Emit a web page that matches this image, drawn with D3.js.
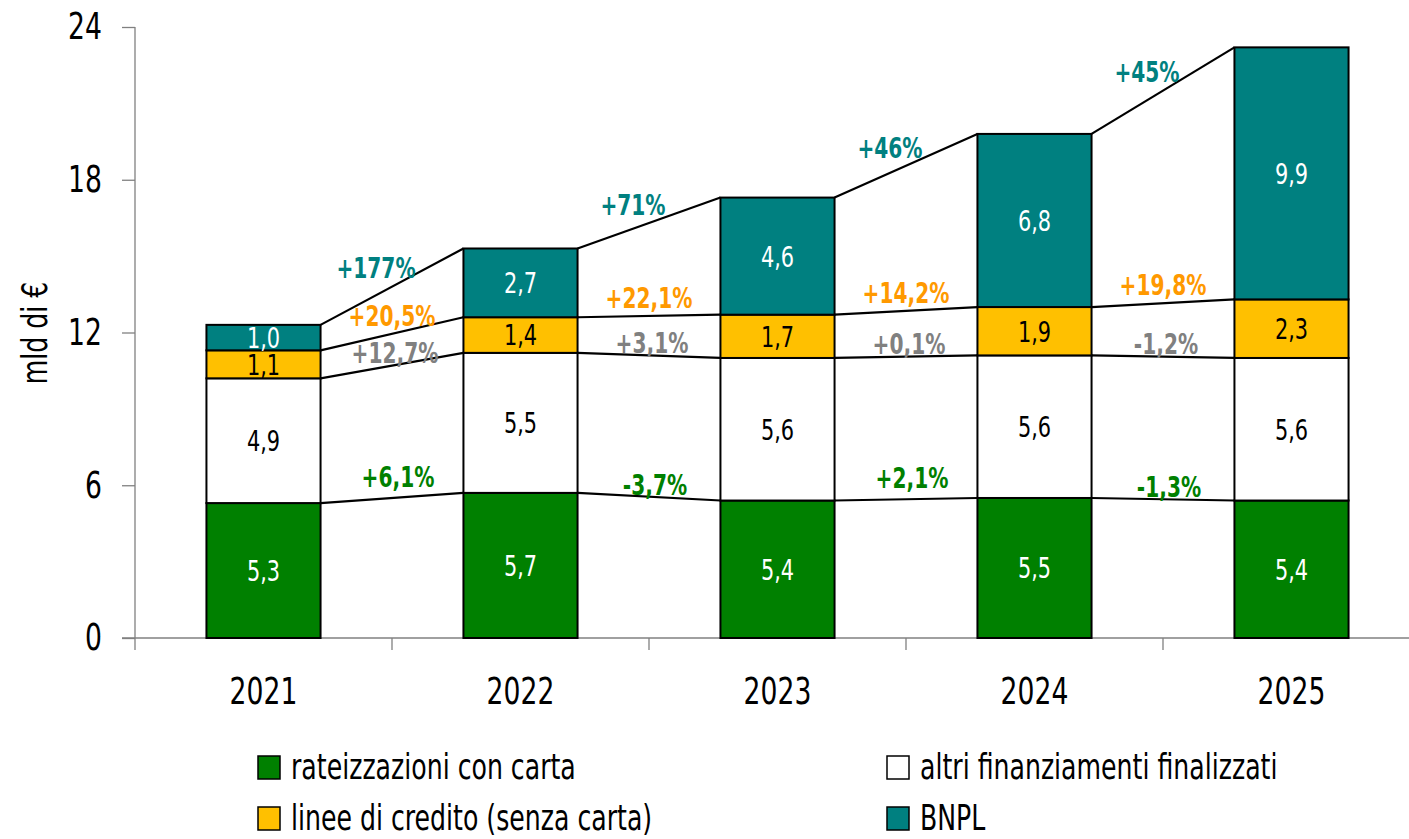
<!DOCTYPE html>
<html>
<head>
<meta charset="utf-8">
<script src="https://cdn.jsdelivr.net/npm/d3@7"></script>
<style>
  body { margin: 0; background: #fff; }
  svg text { font-family: "Liberation Sans Narrow", "DejaVu Sans Condensed", "Liberation Sans", sans-serif; }
</style>
</head>
<body>
<div id="chart"></div>
<script>
// data
var years = ["2021", "2022", "2023", "2024", "2025"];
var rateizzazioni = [5.3, 5.7, 5.4, 5.5, 5.4];
var altri = [4.9, 5.5, 5.6, 5.6, 5.6];
var linee = [1.1, 1.4, 1.7, 1.9, 2.3];
var bnpl = [1.0, 2.7, 4.6, 6.8, 9.9];

var pctRateizzazioni = ["+6,1%", "-3,7%", "+2,1%", "-1,3%"];
var pctAltri = ["+12,7%", "+3,1%", "+0,1%", "-1,2%"];
var pctLinee = ["+20,5%", "+22,1%", "+14,2%", "+19,8%"];
var pctBnpl = ["+177%", "+71%", "+46%", "+45%"];

var yTicks = [0, 6, 12, 18, 24];
var seriesNames = ["rateizzazioni con carta", "altri finanziamenti finalizzati",
                   "linee di credito (senza carta)", "BNPL"];

function create_chart(div_id){
    var W = 1409, H = 839;
    var left = 135, right = 1420, top = 27, bottom = 638;

    var series = [
        {name: seriesNames[0], values: rateizzazioni, fill: "#008000", text: "#fff", pct: pctRateizzazioni, pctColor: "#008000", pctDy: function(p){ return p[0] == "-" ? -12 : -21; }, pctDx: 6},
        {name: seriesNames[1], values: altri, fill: "#fff", text: "#000", pct: pctAltri, pctColor: "#808080", pctDy: function(){ return -12; }, pctDx: 3},
        {name: seriesNames[2], values: linee, fill: "#FFC000", text: "#000", pct: pctLinee, pctColor: "#FF9900", pctDy: function(){ return -18; }, pctDx: 0},
        {name: seriesNames[3], values: bnpl, fill: "#008080", text: "#fff", pct: pctBnpl, pctColor: "#008080", pctDy: function(){ return -18; }, pctDx: -16}
    ];

    // stacked bottoms / tops per year
    var rows = years.map(function(y, i){
        var r = {year: y};
        series.forEach(function(s){ r[s.name] = s.values[i]; });
        return r;
    });
    var stacked = d3.stack().keys(seriesNames)(rows);

    var x = d3.scaleBand()
        .domain(years)
        .range([left, right])
        .paddingInner(0.556)
        .paddingOuter(0.278);
    var y = d3.scaleLinear()
        .domain([0, 24])
        .range([bottom, top]);

    var svg = d3.select(div_id).append("svg")
        .attr("width", W)
        .attr("height", H);

    // y axis
    var yAxis = svg.append("g")
        .attr("transform", "translate(" + left + ",0)")
        .call(d3.axisLeft(y).tickValues(yTicks).tickSize(13).tickPadding(20).tickFormat(d3.format("d")));
    yAxis.select(".domain").attr("stroke", "#808080").attr("stroke-width", 1.3)
        .attr("d", "M0," + top + "V" + (bottom + 12));
    yAxis.selectAll(".tick line").attr("stroke", "#808080").attr("stroke-width", 1.3);
    yAxis.selectAll(".tick text").attr("font-size", 37).attr("fill", "#000");

    // x axis line + boundary ticks
    svg.append("line")
        .attr("x1", left - 13).attr("x2", W)
        .attr("y1", y(0)).attr("y2", y(0))
        .attr("stroke", "#808080").attr("stroke-width", 1.3);
    svg.append("g").selectAll("line")
        .data(years.slice(1))
        .join("line")
        .attr("x1", function(d){ return x(d) - x.step() * x.paddingInner() / 2; })
        .attr("x2", function(d){ return x(d) - x.step() * x.paddingInner() / 2; })
        .attr("y1", y(0)).attr("y2", y(0) + 12)
        .attr("stroke", "#808080").attr("stroke-width", 1.3);
    svg.append("g").selectAll("text")
        .data(years)
        .join("text")
        .attr("x", function(d){ return x(d) + x.bandwidth() / 2; })
        .attr("y", 704)
        .attr("text-anchor", "middle")
        .attr("font-size", 37)
        .text(function(d){ return d; });

    // axis title
    svg.append("text")
        .attr("transform", "translate(47,333) rotate(-90)")
        .attr("text-anchor", "middle")
        .attr("font-size", 35)
        .text("mld di \u20ac");

    // connector lines between bars
    stacked.forEach(function(layer, k){
        var s = series[k];
        var segs = d3.range(years.length - 1).map(function(i){
            return {x1: x(years[i]) + x.bandwidth(), y1: y(layer[i][1]),
                    x2: x(years[i + 1]), y2: y(layer[i + 1][1]), label: s.pct[i]};
        });
        var g = svg.append("g");
        g.selectAll("line")
            .data(segs)
            .join("line")
            .attr("x1", function(d){ return d.x1; })
            .attr("y1", function(d){ return d.y1; })
            .attr("x2", function(d){ return d.x2; })
            .attr("y2", function(d){ return d.y2; })
            .attr("stroke", "#000")
            .attr("stroke-width", 2.2);
        g.selectAll("text")
            .data(segs)
            .join("text")
            .attr("x", function(d){ return (d.x1 + d.x2) / 2 + s.pctDx; })
            .attr("y", function(d){ return (d.y1 + d.y2) / 2 + s.pctDy(d.label); })
            .attr("dy", "0.35em")
            .attr("text-anchor", "middle")
            .attr("font-size", 28)
            .attr("font-weight", "bold")
            .attr("fill", s.pctColor)
            .text(function(d){ return d.label; });
    });

    // bars
    stacked.forEach(function(layer, k){
        var s = series[k];
        var g = svg.append("g");
        g.selectAll("rect")
            .data(layer)
            .join("rect")
            .attr("x", function(d){ return x(d.data.year); })
            .attr("y", function(d){ return y(d[1]); })
            .attr("width", x.bandwidth())
            .attr("height", function(d){ return y(d[0]) - y(d[1]); })
            .attr("fill", s.fill)
            .attr("stroke", "#000")
            .attr("stroke-width", 2);
        g.selectAll("text")
            .data(layer)
            .join("text")
            .attr("x", function(d){ return x(d.data.year) + x.bandwidth() / 2; })
            .attr("y", function(d){ return y((d[0] + d[1]) / 2); })
            .attr("dy", "0.36em")
            .attr("text-anchor", "middle")
            .attr("font-size", 29)
            .attr("fill", s.text)
            .text(function(d){ return d3.format(".1f")(d[1] - d[0]).replace(".", ","); });
    });

    // legend, 2 columns
    var legendPos = [[258, 767], [887, 767], [258, 818], [887, 818]];
    var order = [0, 1, 2, 3];
    var lg = svg.append("g").selectAll("g")
        .data(order)
        .join("g")
        .attr("transform", function(d){ return "translate(" + legendPos[d][0] + "," + legendPos[d][1] + ")"; });
    lg.append("rect")
        .attr("x", 0).attr("y", -11)
        .attr("width", 22).attr("height", 23)
        .attr("fill", function(d){ return series[d].fill; })
        .attr("stroke", "#000").attr("stroke-width", 1.5);
    lg.append("text")
        .attr("x", 33)
        .attr("dy", "0.33em")
        .attr("font-size", 35)
        .text(function(d){ return series[d].name; });

    // the original face is narrower than anything installed: squeeze glyphs
    svg.selectAll("text").each(function(){
        var len = this.getComputedTextLength();
        d3.select(this)
            .attr("textLength", len * 0.8)
            .attr("lengthAdjust", "spacingAndGlyphs");
    });
}

create_chart("#chart");
</script>
</body>
</html>
